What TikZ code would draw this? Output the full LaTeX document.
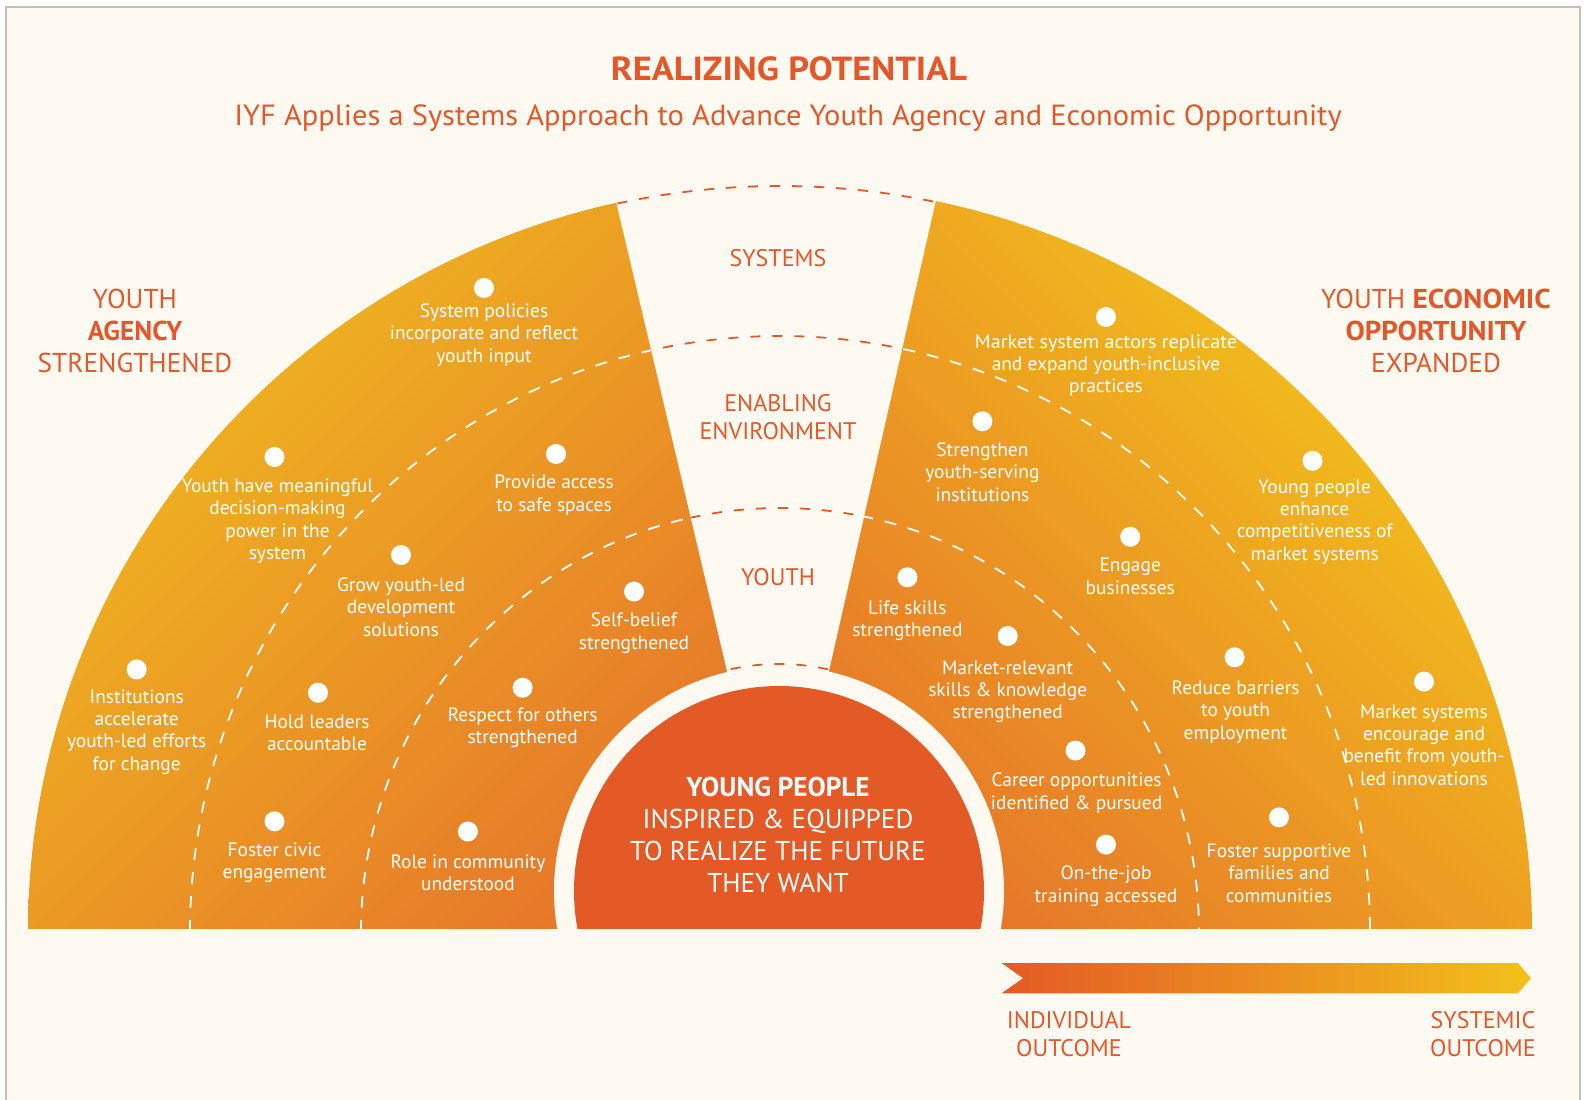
\documentclass[tikz,border=0pt]{standalone}
\usepackage{fontspec}
\setmainfont{PT Sans}
\usetikzlibrary{calc}
\definecolor{cream}{HTML}{FEFAF1}
\definecolor{framegray}{HTML}{C3C1B9}
\definecolor{titlered}{HTML}{E4572B}
\definecolor{redc}{HTML}{E35A26}
\definecolor{orC}{HTML}{E6772A}
\definecolor{yelL}{HTML}{F0BC1F}
\definecolor{yelR}{HTML}{F4C91A}
\definecolor{arrY}{HTML}{F2C11B}
\newcommand\fs[2]{\fontsize{#1}{#2}\selectfont}
\begin{document}
\begin{tikzpicture}[x=1pt,y=-1pt,
  lbl/.style={text=white, align=center, inner sep=0pt, font=\fs{19.4}{22.3}},
  dotn/.style={circle, fill=white, minimum size=20pt, inner sep=0pt},
  hdr/.style={text=titlered, align=center, inner sep=0pt, font=\fs{27.3}{32.4}},
  gaplbl/.style={text=titlered, align=center, inner sep=0pt, font=\fs{24}{28}},
  wdash/.style={draw=white, line width=1.8pt, dash pattern=on 12pt off 12pt},
  rdash/.style={draw=titlered, line width=1.8pt, dash pattern=on 10pt off 12pt}]
\useasboundingbox (0,0) rectangle (1588,1100);
\fill[white] (0,0) rectangle (1588,1100);
\fill[cream] (6,7) rectangle (1580,1100);
\draw[framegray, line width=2pt] (6,1100) -- (6,7) -- (1580,7) -- (1580,1100);

\coordinate (C) at (780,932);
\coordinate (R) at (779,891);

\begin{scope}
  \clip (0,0) rectangle (1588,928);
  \begin{scope}
    \clip (C) ellipse[x radius=752pt, y radius=747pt];
    \shade[top color=yelL, bottom color=orC, shading angle=45] (28,180) rectangle (780,930);
    \shade[top color=yelR, bottom color=orC, shading angle=-45] (780,180) rectangle (1532,930);
  \end{scope}
  \draw[wdash] (C) ++(180:590pt) arc[start angle=180, end angle=0, x radius=590pt, y radius=596pt];
  \draw[wdash] (C) ++(180:419pt) arc[start angle=180, end angle=0, x radius=419pt, y radius=424pt];
  \fill[cream] (R) -- +(103.3:770pt) -- +(77.2:770pt) -- cycle;
  \fill[cream] (R) circle[radius=225pt];
  \fill[redc] (R) circle[radius=205pt];
  \begin{scope}
    \clip (R) -- +(103.3:770pt) -- +(77.2:770pt) -- cycle;
    \draw[rdash] (C) ++(180:751pt) arc[start angle=180, end angle=0, x radius=751pt, y radius=746pt];
    \draw[rdash] (C) ++(180:590pt) arc[start angle=180, end angle=0, x radius=590pt, y radius=596pt];
    \draw[rdash] (C) ++(180:419pt) arc[start angle=180, end angle=0, x radius=419pt, y radius=424pt];
    \draw[rdash] (R) ++(180:227pt) arc[start angle=180, end angle=0, radius=227pt];
  \end{scope}
\end{scope}

% titles
\node[font=\fs{33.4}{40}\bfseries, text=titlered, inner sep=0pt] (title) at (789,69) {\scalebox{1.09}[1]{REALIZING POTENTIAL}};
\node[font=\fs{29.2}{34}, text=titlered, inner sep=0pt] (subtitle) at (788,118) {\scalebox{1.045}[1]{IYF Applies a Systems Approach to Advance Youth Agency and Economic Opportunity}};

% gap labels
\node[gaplbl] (sys) at (778,258) {SYSTEMS};
\node[gaplbl] (env) at (778,417) {ENABLING\\ENVIRONMENT};
\node[gaplbl] (yth) at (778,577) {YOUTH};

% headers
\node[hdr] (hleft) at (135,331) {YOUTH\\\textbf{AGENCY}\\STRENGTHENED};
\node[hdr] (hright) at (1436,331) {YOUTH \textbf{\scalebox{1.08}[1]{ECONOMIC}}\\\textbf{\scalebox{1.06}[1]{OPPORTUNITY}}\\EXPANDED};

% center
\node[text=white, align=center, inner sep=0pt, font=\fs{27.2}{32}] (center) at (778,835)
  {\textbf{YOUNG PEOPLE}\\INSPIRED \& EQUIPPED\\TO REALIZE THE FUTURE\\THEY WANT};

% left dots and labels
\node[dotn] (d1) at (484,288) {};
\node[lbl] (t1) at (484,335) {System policies\\incorporate and reflect\\youth input};
\node[dotn] (d2) at (274.5,457) {};
\node[lbl] (t2) at (277.5,521) {Youth have meaningful\\decision-making\\power in the\\system};
\node[dotn] (d3) at (556,454) {};
\node[lbl] (t3) at (554,495) {Provide access\\to safe spaces};
\node[dotn] (d4) at (401,555) {};
\node[lbl] (t4) at (401,607) {Grow youth-led\\development\\solutions};
\node[dotn] (d5) at (634,591.5) {};
\node[lbl] (t5) at (634,633) {Self-belief\\strengthened};
\node[dotn] (d6) at (136.7,669.4) {};
\node[lbl] (t6) at (136.7,732) {Institutions\\accelerate\\youth-led efforts\\for change};
\node[dotn] (d7) at (318,692.7) {};
\node[lbl] (t7) at (317,733) {Hold leaders\\accountable};
\node[dotn] (d8) at (522.6,687.7) {};
\node[lbl] (t8) at (522.6,728) {Respect for others\\strengthened};
\node[dotn] (d9) at (274.5,821.3) {};
\node[lbl] (t9) at (274.5,863) {Foster civic\\engagement};
\node[dotn] (d10) at (467.9,831.5) {};
\node[lbl] (t10) at (467.9,873) {Role in community\\understood};

% right dots and labels
\node[dotn] (d11) at (1106,317) {};
\node[lbl] (t11) at (1106,365.6) {\scalebox{1.04}[1]{Market system actors replicate}\\and expand youth-inclusive\\practices};
\node[dotn] (d12) at (982.4,421.3) {};
\node[lbl] (t12) at (982.4,472) {Strengthen\\youth-serving\\institutions};
\node[dotn] (d13) at (1312.5,460.8) {};
\node[lbl] (t13) at (1314.6,522) {Young people\\enhance\\competitiveness of\\market systems};
\node[dotn] (d14) at (1130.2,536.8) {};
\node[lbl] (t14) at (1130.2,576.3) {Engage\\businesses};
\node[dotn] (d15) at (907.4,577.3) {};
\node[lbl] (t15) at (907.4,620.8) {Life skills\\strengthened};
\node[dotn] (d16) at (1007.7,636) {};
\node[lbl] (t16) at (1007.7,691.7) {Market-relevant\\skills \& knowledge\\strengthened};
\node[dotn] (d17) at (1234.6,657.3) {};
\node[lbl] (t17) at (1235.6,712) {Reduce barriers\\to youth\\employment};
\node[dotn] (d18) at (1424,681.6) {};
\node[lbl] (t18) at (1424,745) {Market systems\\encourage and\\benefit from youth-\\led innovations};
\node[dotn] (d19) at (1075.5,750.5) {};
\node[lbl] (t19) at (1076.6,793) {Career opportunities\\identified \& pursued};
\node[dotn] (d20) at (1106,844.6) {};
\node[lbl] (t20) at (1106,886.2) {On-the-job\\training accessed};
\node[dotn] (d21) at (1279,817.3) {};
\node[lbl] (t21) at (1279,873) {Foster supportive\\families and\\communities};

% bottom arrow
\shade[left color=redc, right color=arrY]
  (1001.6,963) -- (1518,963) -- (1531,978.2) -- (1518,993.3) -- (1001.6,993.3) -- (1023,978.2) -- cycle;
\node[gaplbl] (indiv) at (1069,1034) {INDIVIDUAL\\OUTCOME};
\node[gaplbl] (systemic) at (1483,1034) {SYSTEMIC\\OUTCOME};
\end{tikzpicture}
\end{document}
